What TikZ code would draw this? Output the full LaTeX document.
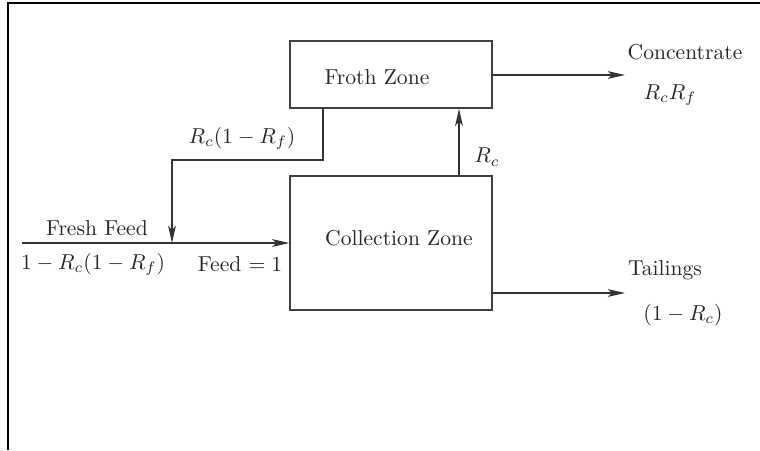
\documentclass[tikz,border=0pt]{standalone}
\usetikzlibrary{arrows.meta}
\begin{document}
\begin{tikzpicture}[x=0.463pt,y=-0.463pt,
  zonebox/.style={draw=black!75,line width=0.6pt,inner sep=0pt,minimum width=93.5pt},
  flow/.style={draw=black!80,line width=0.6pt,-{Stealth[length=8pt,width=3.6pt,inset=2pt]}},
  lbl/.style={inner sep=0pt,text=black!85}]
\useasboundingbox (0,0) rectangle (760,450);
\draw[line width=1pt] (8,450) -- (8,3) -- (760,3);
% boxes
\node[zonebox,minimum height=31pt] (froth) at (391,74.5) {};
\node[zonebox,minimum height=62pt] (coll) at (391,243) {};
\node[lbl] (frothlbl) at (377,77) {Froth Zone};
\node[lbl] (colllbl) at (399,238) {Collection Zone};
% coordinates
\coordinate (recyTop) at (323,108);
\coordinate (recyBend) at (172,160);
\coordinate (merge) at (172,243);
\coordinate (feedStart) at (22,243);
\coordinate (rcx) at (459,0);
\coordinate (concEnd) at (625,75);
\coordinate (tailEnd) at (625,293);
% connectors
\draw[flow] (feedStart) -- (coll.west);
\draw[flow] (recyTop) |- (recyBend) -- (merge);
\draw[flow] (coll.north -| rcx) -- (froth.south -| rcx);
\draw[flow] (froth.east |- concEnd) -- (concEnd);
\draw[flow] (coll.east |- tailEnd) -- (tailEnd);
% labels
\node[lbl] (recylbl) at (242,138) {$R_c(1-R_f)$};
\node[lbl] (freshlbl) at (97,228) {Fresh Feed};
\node[lbl] (freshval) at (93,264) {$1-R_c(1-R_f)$};
\node[lbl] (feedlbl) at (240,264) {Feed $=1$};
\node[lbl] (rclbl) at (487,157) {$R_c$};
\node[lbl] (conclbl) at (685,52) {Concentrate};
\node[lbl] (concval) at (670,95) {$R_cR_f$};
\node[lbl] (taillbl) at (665,270) {Tailings};
\node[lbl] (tailval) at (683,315) {$(1-R_c)$};
\end{tikzpicture}
\end{document}
